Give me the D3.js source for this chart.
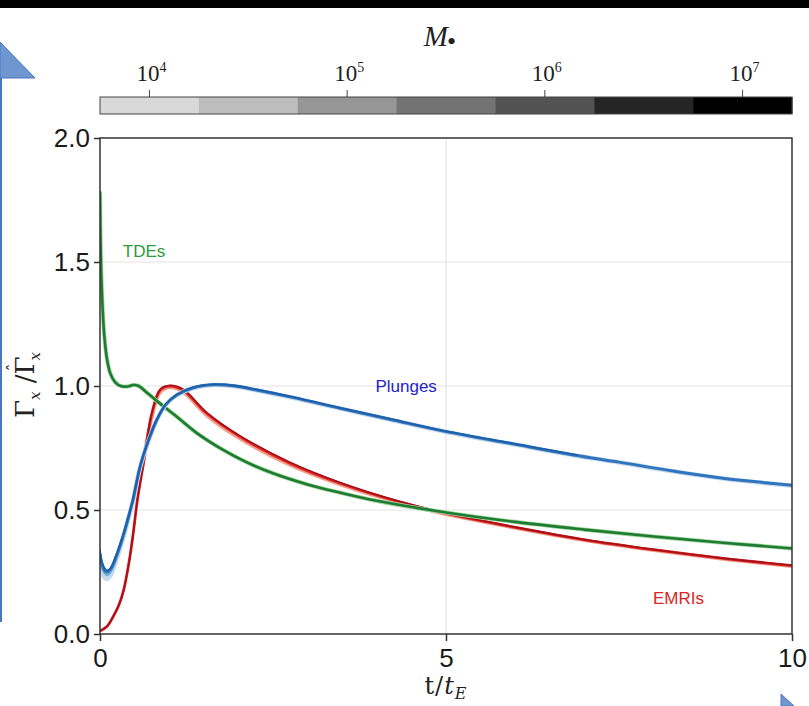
<html>
<head>
<meta charset="utf-8">
<script src="https://d3js.org/d3.v7.min.js"></script>
<style>
  body { margin: 0; background: #fff; }
  svg { display: block; }
</style>
</head>
<body>
<script>
    const width = 809;
    const height = 706;

    // x ticks, y ticks
    const xTicks = [0, 5, 10];
    const yTicks = [0.0, 0.5, 1.0, 1.5, 2.0];

    // colour bar: bins of log10(M), grey per bin, labelled decades
    const massEdges = [3.75, 4.25, 4.75, 5.25, 5.75, 6.25, 6.75, 7.25];
    const massGreys = ['#d9d9d9', '#bdbdbd', '#969696', '#737373', '#525252', '#252525', '#000000'];
    const massTicks = [4, 5, 6, 7];

    // TDEs  [t/tE, value]
    const tdeMain = [[0, 1.78], [0.01, 1.55], [0.03, 1.36], [0.06, 1.21], [0.1, 1.11], [0.15, 1.05], [0.22, 1.015],
        [0.3, 1.0], [0.4, 0.998], [0.48, 1.004], [0.56, 1.0], [0.65, 0.98], [0.82, 0.94], [1.11, 0.876],
        [1.4, 0.81], [1.78, 0.742], [2.1, 0.695], [2.5, 0.648], [3.0, 0.603], [3.47, 0.57], [4.0, 0.537],
        [5, 0.49], [6, 0.452], [7, 0.421], [8, 0.393], [9, 0.368], [10, 0.345]];

    // EMRIs: light, main, dark
    const emriLight = [[0.6, 0.66], [0.75, 0.875], [0.87, 0.975], [1.02, 0.994], [1.2, 0.976], [1.54, 0.882],
        [2.02, 0.788], [2.75, 0.681], [3.47, 0.603], [4.3, 0.532], [5, 0.483], [6, 0.428], [7, 0.378],
        [8, 0.338], [9, 0.303], [10, 0.273]];
    const emriMain = [[0, 0.012], [0.1, 0.03], [0.19, 0.07], [0.27, 0.115], [0.34, 0.175], [0.42, 0.29],
        [0.48, 0.406], [0.54, 0.54], [0.63, 0.69], [0.75, 0.89], [0.87, 0.984], [1.01, 1.0], [1.2, 0.984],
        [1.54, 0.89], [2.02, 0.796], [2.75, 0.688], [3.47, 0.608], [4.3, 0.535], [5, 0.486], [6, 0.43],
        [7, 0.38], [8, 0.34], [9, 0.305], [10, 0.276]];
    const emriDark = [[0, 0.012], [0.1, 0.03], [0.19, 0.07], [0.27, 0.115], [0.34, 0.175], [0.42, 0.29],
        [0.48, 0.406], [0.54, 0.54], [0.63, 0.692], [0.75, 0.892], [0.87, 0.986], [1.01, 1.002], [1.2, 0.987],
        [1.54, 0.894], [2.02, 0.8], [2.75, 0.692], [3.47, 0.611], [4.3, 0.537], [5, 0.488], [6, 0.431],
        [7, 0.381], [8, 0.341], [9, 0.306], [10, 0.277]];

    // Plunges: light to dark
    const plungeLight = [[0, 0.29], [0.03, 0.25], [0.06, 0.23], [0.1, 0.222], [0.15, 0.235], [0.2, 0.27],
        [0.25, 0.31], [0.3, 0.355], [0.36, 0.412], [0.42, 0.475], [0.48, 0.54], [0.58, 0.672], [0.7, 0.778],
        [0.82, 0.862], [0.95, 0.924], [1.11, 0.963], [1.35, 0.992], [1.64, 1.004], [1.95, 0.999], [2.26, 0.983],
        [2.8, 0.952], [3.47, 0.909], [4.2, 0.864], [5, 0.815], [6, 0.764], [6.84, 0.721], [7.5, 0.692],
        [8.28, 0.656], [9, 0.627], [10, 0.598]];
    const plungeMid = [[0, 0.31], [0.03, 0.27], [0.06, 0.25], [0.1, 0.238], [0.15, 0.25], [0.2, 0.28],
        [0.25, 0.318], [0.3, 0.36], [0.36, 0.416], [0.42, 0.478]];
    const plungeMain = [[0, 0.32], [0.03, 0.28], [0.06, 0.26], [0.1, 0.25], [0.15, 0.26], [0.2, 0.288],
        [0.25, 0.325], [0.3, 0.366], [0.36, 0.42], [0.42, 0.48], [0.48, 0.545], [0.58, 0.675], [0.7, 0.78],
        [0.82, 0.863], [0.95, 0.925], [1.11, 0.964], [1.35, 0.993], [1.64, 1.005], [1.95, 1.0], [2.26, 0.984],
        [2.8, 0.953], [3.47, 0.91], [4.2, 0.865], [5, 0.816], [6, 0.765], [6.84, 0.722], [7.5, 0.693],
        [8.28, 0.657], [9, 0.628], [10, 0.6]];
    const plungeDark = [[0, 0.335], [0.03, 0.29], [0.06, 0.268], [0.1, 0.256], [0.15, 0.265], [0.2, 0.293],
        [0.25, 0.33], [0.3, 0.37], [0.36, 0.424], [0.42, 0.484], [0.48, 0.548], [0.58, 0.678], [0.7, 0.782],
        [0.82, 0.865], [0.95, 0.927], [1.11, 0.966], [1.35, 0.995], [1.64, 1.007], [1.95, 1.002], [2.26, 0.986],
        [2.8, 0.955], [3.47, 0.912], [4.2, 0.867], [5, 0.818], [6, 0.767], [6.9, 0.721]];

    const plot = {left: 100, right: 792, top: 138, bottom: 634};

    const x = d3.scaleLinear().domain([0, 10]).range([plot.left, plot.right]);
    const y = d3.scaleLinear().domain([0, 2]).range([plot.bottom, plot.top]);
    const cbar = d3.scaleLinear().domain([3.75, 7.25]).range([plot.left, plot.right]);

    const svg = d3.select("body").append("svg")
        .attr("width", width)
        .attr("height", height);

    // slide decorations around the figure
    svg.append("rect").attr("x", 0).attr("y", 0).attr("width", width).attr("height", 8).attr("fill", "#000");
    svg.append("path").attr("d", "M0,42 L35,78 L0,78 Z").attr("fill", "#6f97cf").attr("stroke", "#4a76c0");
    svg.append("rect").attr("x", 0).attr("y", 78).attr("width", 2).attr("height", 544).attr("fill", "#4a76c0");
    svg.append("path").attr("d", "M781,694 L794,706 L781,706 Z").attr("fill", "#6f97cf").attr("stroke", "#4a76c0");

    // colour bar
    const cb = svg.append("g");
    cb.selectAll("rect.bin")
        .data(massGreys)
        .enter()
        .append("rect")
        .attr("class", "bin")
        .attr("x", (d, i) => cbar(massEdges[i]))
        .attr("y", 97)
        .attr("width", (d, i) => cbar(massEdges[i + 1]) - cbar(massEdges[i]) + 0.5)
        .attr("height", 17)
        .attr("fill", d => d);
    cb.append("rect")
        .attr("x", plot.left).attr("y", 97)
        .attr("width", plot.right - plot.left).attr("height", 17)
        .attr("fill", "none").attr("stroke", "#444").attr("stroke-width", 1);
    cb.selectAll("line.tk")
        .data(massTicks)
        .enter()
        .append("line")
        .attr("x1", d => cbar(d)).attr("x2", d => cbar(d))
        .attr("y1", 90).attr("y2", 97)
        .attr("stroke", "#444").attr("stroke-width", 1);
    const cbLab = cb.selectAll("text.tl")
        .data(massTicks)
        .enter()
        .append("text")
        .attr("x", d => cbar(d) + 2)
        .attr("y", 81)
        .attr("text-anchor", "middle")
        .attr("font-family", "Liberation Serif")
        .attr("font-size", 23)
        .attr("fill", "#222");
    cbLab.append("tspan").text("10");
    cbLab.append("tspan").attr("dy", -9).attr("font-size", 14).text(d => d);

    const mLab = svg.append("text")
        .attr("x", 440).attr("y", 46)
        .attr("text-anchor", "middle")
        .attr("font-family", "Liberation Serif")
        .attr("font-size", 29)
        .attr("fill", "#222");
    mLab.append("tspan").attr("font-style", "italic").text("M");
    mLab.append("tspan").attr("dx", -1).attr("dy", 4).attr("font-size", 26).text("\u2022");

    // grid
    const grid = svg.append("g");
    grid.selectAll("line.h")
        .data([0.5, 1.0, 1.5])
        .enter()
        .append("line")
        .attr("x1", plot.left).attr("x2", plot.right)
        .attr("y1", d => y(d)).attr("y2", d => y(d))
        .attr("stroke", "#e3e3e3").attr("stroke-width", 1.2);
    grid.append("line")
        .attr("x1", x(5)).attr("x2", x(5))
        .attr("y1", plot.top).attr("y2", plot.bottom)
        .attr("stroke", "#e3e3e3").attr("stroke-width", 1.2);

    // curves
    svg.append("clipPath").attr("id", "clip")
        .append("rect")
        .attr("x", plot.left).attr("y", plot.top)
        .attr("width", plot.right - plot.left).attr("height", plot.bottom - plot.top);

    const line = d3.line()
        .x(d => x(d[0]))
        .y(d => y(d[1]))
        .curve(d3.curveCatmullRom.alpha(0.5));

    const curves = svg.append("g").attr("clip-path", "url(#clip)");
    const addCurve = (data, stroke, w) => {
        curves.append("path")
            .attr("d", line(data))
            .attr("fill", "none")
            .attr("stroke", stroke)
            .attr("stroke-width", w)
            .attr("stroke-linecap", "round");
    };

    addCurve(emriLight, '#f4a08a', 3.6);
    addCurve(emriMain, '#dc2626', 2.8);
    addCurve(emriDark, '#a3101a', 1.6);

    addCurve(tdeMain, '#a1d99b', 4.2);
    addCurve(tdeMain, '#1f7a34', 2.6);

    addCurve(plungeLight, '#c6dbef', 4.6);
    addCurve(plungeMid, '#6baed6', 2.8);
    addCurve(plungeMain, '#2f74bd', 3.0);
    addCurve(plungeDark, '#1f5fa8', 1.8);

    // axes box
    svg.append("rect")
        .attr("x", plot.left).attr("y", plot.top)
        .attr("width", plot.right - plot.left).attr("height", plot.bottom - plot.top)
        .attr("fill", "none").attr("stroke", "#333").attr("stroke-width", 1.5);

    const yAxis = svg.append("g")
        .attr("transform", `translate(${plot.left},0)`)
        .call(d3.axisLeft(y).tickValues(yTicks).tickFormat(d3.format(".1f")).tickSize(6).tickPadding(4));
    const xAxis = svg.append("g")
        .attr("transform", `translate(0,${plot.bottom})`)
        .call(d3.axisBottom(x).tickValues(xTicks).tickFormat(d3.format("d")).tickSize(7).tickPadding(8));
    [xAxis, yAxis].forEach(a => {
        a.select(".domain").remove();
        a.selectAll("line").attr("stroke", "#333").attr("stroke-width", 1.5);
        a.selectAll("text")
            .attr("font-family", "Liberation Sans")
            .attr("font-size", 26)
            .attr("fill", "#1a1a1a");
    });

    // axis titles
    const xt = svg.append("text")
        .attr("x", 446).attr("y", 694)
        .attr("text-anchor", "middle")
        .attr("font-family", "DejaVu Serif")
        .attr("font-size", 24)
        .attr("letter-spacing", 1)
        .attr("fill", "#222");
    xt.append("tspan").text("t/");
    xt.append("tspan").attr("font-style", "italic").text("t");
    xt.append("tspan").attr("dy", 5).attr("font-size", 16).attr("font-style", "italic").text("E");

    const yt = svg.append("text")
        .attr("transform", "translate(34,385) rotate(-90)")
        .attr("text-anchor", "middle")
        .attr("font-family", "DejaVu Serif")
        .attr("font-size", 26)
        .attr("fill", "#222");
    yt.append("tspan").text("\u0393");
    yt.append("tspan").attr("dy", 6).attr("font-size", 15).attr("font-style", "italic").text("x");
    yt.append("tspan").attr("dy", -6).text(" /");
    yt.append("tspan").text("\u0393");
    yt.append("tspan").attr("dx", -15).attr("dy", -15).attr("font-size", 16).text("\u02C6");
    yt.append("tspan").attr("dx", 3).attr("dy", 21).attr("font-size", 15).attr("font-style", "italic").text("x");

    // family labels
    const labels = [
        {text: "TDEs", t: 0.33, v: 1.52, color: "#2e9a3a"},
        {text: "Plunges", t: 3.98, v: 0.975, color: "#2424cc"},
        {text: "EMRIs", t: 7.99, v: 0.12, color: "#dc2424"}
    ];
    svg.selectAll("text.fam")
        .data(labels)
        .enter()
        .append("text")
        .attr("x", d => x(d.t))
        .attr("y", d => y(d.v))
        .attr("font-family", "Liberation Sans")
        .attr("font-size", 17)
        .attr("fill", d => d.color)
        .text(d => d.text);
</script>
</body>
</html>
